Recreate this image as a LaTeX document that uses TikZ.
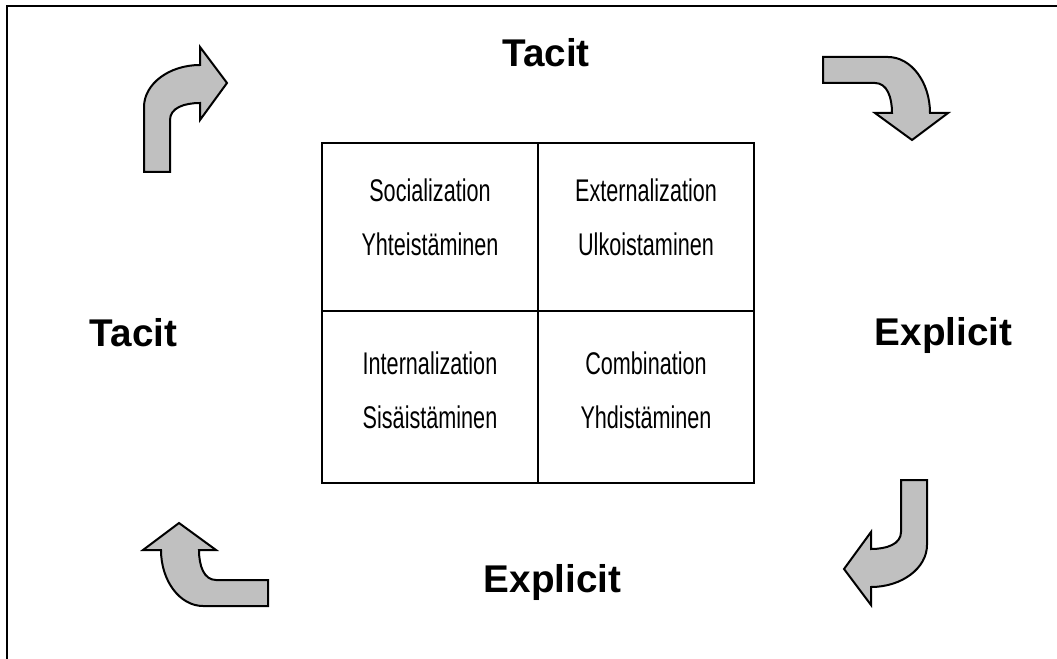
\documentclass[tikz,border=0pt]{standalone}
\usepackage{fontspec}
\setmainfont{Liberation Sans}
\newfontfamily\cellfont[FakeStretch=0.69]{Liberation Sans}
\usetikzlibrary{positioning}
\definecolor{arrowgray}{RGB}{192,192,192}
\tikzset{
  cell/.style={draw, line width=1.5pt, minimum width=162pt, minimum height=126pt, inner sep=0pt, outer sep=0pt},
  celltext/.style={align=center, font=\cellfont\fontsize{23.5}{40.5}\selectfont, inner sep=0pt},
  side/.style={font=\bfseries\fontsize{29}{35}\selectfont, anchor=base, inner sep=0pt},
  turn/.style={draw, line width=1.5pt, fill=arrowgray, line join=miter}
}
% one bent arrow, narrow end at the origin, head to the right
\newcommand{\turnarrow}{%
  \draw[turn] (0,0) -- (0,-65) .. controls (0,-88) and (25,-107) .. (56,-107)
    -- (56,-125) -- (83,-89) -- (56,-52) -- (56,-69)
    .. controls (40,-69) and (26,-64) .. (26,-52) -- (26,0) -- cycle;}

\begin{document}
\begin{tikzpicture}[x=0.75pt, y=-0.75pt]
\useasboundingbox (0,0) rectangle (1057,659);

% frame
\draw[line width=1.5pt] (7,659) -- (7,6) -- (1057,6);

% the four modes
\node[cell] (soc) at (430,227) {};
\node[cell, right=0pt of soc] (ext) {};
\node[cell, below=0pt of soc, minimum height=129pt] (int) {};
\node[cell, right=0pt of int, minimum height=129pt] (com) {};

\node[celltext] (soctext) at ([yshift=7.5pt]soc.center) {Socialization\\Yhteistäminen};
\node[celltext] (exttext) at ([yshift=7.5pt]ext.center) {Externalization\\Ulkoistaminen};
\node[celltext] (inttext) at ([yshift=5.25pt]int.center) {Internalization\\Sisäistäminen};
\node[celltext] (comtext) at ([yshift=5.25pt]com.center) {Combination\\Yhdistäminen};

% side labels
\node[side] (tacittop) at (546,67) {Tacit};
\node[side] (tacitleft) at (133.5,347) {Tacit};
\node[side] (explright) at (943.5,345) {Explicit};
\node[side] (explbottom) at (552.5,592) {Explicit};

% arrows round the square
\begin{scope}[shift={(144,172)}]
  \turnarrow
\end{scope}
\begin{scope}[shift={(823,57)}, rotate=-90]
  \turnarrow
\end{scope}
\begin{scope}[shift={(927,480)}, rotate=180]
  \turnarrow
\end{scope}
\begin{scope}[shift={(268,606)}, rotate=90]
  \turnarrow
\end{scope}
\end{tikzpicture}
\end{document}
